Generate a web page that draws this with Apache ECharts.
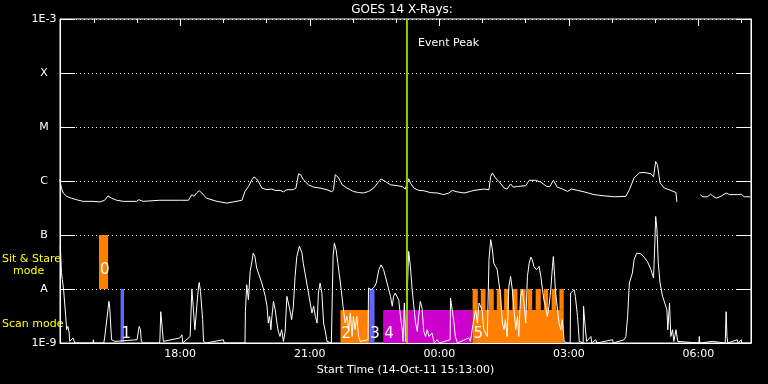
<!DOCTYPE html>
<html><head><meta charset="utf-8">
<script src="https://cdn.jsdelivr.net/npm/echarts@6/dist/echarts.min.js"></script>
<style>html,body{margin:0;padding:0;background:#000;}#c{width:768px;height:384px;}</style>
</head><body><div id="c"></div>
<script>
// ---------- DATA ----------
const startHour = 15 + 13 / 60;          // 14-Oct-11 15:13:00
const endHour = startHour + 16;
const yTickExponents = [-9, -8, -7, -6, -5, -4, -3];
const yTickLabels = ['1E-9', 'A', 'B', 'C', 'M', 'X', '1E-3'];
const xMajorHours = [18, 21, 24, 27, 30];
const xMinorHours = [16, 17, 18, 19, 20, 21, 22, 23, 24, 25, 26, 27, 28, 29, 30, 31];
const eventPeakHour = 23.25;

// GOES 14 1-8 A channel (hours since 14-Oct 00:00, W/m^2)
const longChannelA = [[15.21,1.06e-6],[15.25,7.4e-7],[15.29,6.0e-7],[15.37,5.2e-7],[15.48,4.8e-7],[15.60,4.5e-7],[15.75,4.2e-7],[15.98,4.2e-7],[16.14,4.1e-7],[16.25,4.4e-7],[16.33,5.3e-7],[16.41,4.8e-7],[16.53,4.4e-7],[16.68,4.2e-7],[16.99,4.2e-7],[17.04,4.5e-7],[17.14,4.2e-7],[17.53,4.4e-7],[17.99,4.4e-7],[18.19,4.4e-7],[18.27,5.6e-7],[18.32,5.2e-7],[18.38,6.0e-7],[18.44,6.6e-7],[18.50,6.0e-7],[18.61,4.8e-7],[18.85,4.2e-7],[19.08,3.9e-7],[19.23,4.1e-7],[19.43,4.4e-7],[19.50,6.4e-7],[19.58,7.9e-7],[19.66,1.06e-6],[19.71,1.19e-6],[19.77,1.09e-6],[19.83,9.2e-7],[19.89,7.4e-7],[20.01,6.9e-7],[20.12,7.1e-7],[20.20,6.7e-7],[20.31,6.7e-7],[20.39,6.3e-7],[20.47,6.9e-7],[20.62,6.9e-7],[20.68,7.4e-7],[20.74,1.36e-6],[20.79,1.31e-6],[20.85,1.06e-6],[20.97,8.5e-7],[21.09,7.7e-7],[21.24,7.4e-7],[21.40,6.9e-7],[21.51,6.3e-7],[21.55,6.9e-7],[21.59,1.31e-6],[21.63,1.31e-6],[21.67,1.14e-6],[21.75,8.5e-7],[21.86,7.4e-7],[22.01,6.4e-7],[22.13,6.1e-7],[22.25,6.0e-7],[22.36,6.4e-7],[22.48,7.4e-7],[22.60,9.8e-7],[22.65,1.09e-6],[22.75,9.8e-7],[22.87,8.5e-7],[23.02,8.2e-7],[23.14,7.9e-7],[23.21,7.1e-7],[23.29,1.10e-6],[23.33,9.2e-7],[23.41,7.4e-7],[23.52,6.7e-7],[23.64,6.6e-7],[23.79,6.1e-7],[23.95,6.0e-7],[24.10,5.6e-7],[24.22,6.0e-7],[24.30,6.7e-7],[24.41,6.3e-7],[24.57,6.0e-7],[24.72,6.4e-7],[24.80,6.7e-7],[25.03,7.1e-7],[25.15,6.9e-7],[25.19,1.22e-6],[25.23,1.41e-6],[25.30,1.14e-6],[25.38,9.8e-7],[25.50,7.4e-7],[25.57,7.1e-7],[25.65,8.8e-7],[25.71,7.7e-7],[25.81,7.9e-7],[26.00,8.2e-7],[26.08,1.03e-6],[26.23,1.03e-6],[26.35,9.5e-7],[26.49,7.9e-7],[26.56,7.9e-7],[26.64,1.03e-6],[26.73,7.7e-7],[26.85,7.1e-7],[26.97,6.4e-7],[27.06,7.1e-7],[27.20,6.7e-7],[27.35,6.3e-7],[27.58,5.6e-7],[27.82,5.3e-7],[28.05,5.1e-7],[28.32,5.2e-7],[28.40,6.9e-7],[28.51,1.14e-6],[28.63,1.41e-6],[28.74,1.44e-6],[28.90,1.36e-6],[28.96,1.19e-6],[29.01,2.3e-6],[29.05,2.0e-6],[29.11,9.2e-7],[29.21,7.4e-7],[29.36,6.7e-7],[29.48,6.1e-7],[29.50,4.1e-7]];
const longChannelB = [[30.04,5.6e-7],[30.10,5.1e-7],[30.21,5.1e-7],[30.28,5.7e-7],[30.33,5.3e-7],[30.41,4.8e-7],[30.52,5.2e-7],[30.64,6.0e-7],[30.72,5.6e-7],[30.91,5.6e-7],[30.99,5.7e-7],[31.06,5.1e-7],[31.20,5.1e-7]];

// GOES 14 0.5-4 A channel
const shortChannel = [[15.22,6.2e-8],[15.23,5.0e-8],[15.25,2.0e-8],[15.27,1.49e-8],[15.30,9.7e-9],[15.33,4.8e-9],[15.35,3.1e-9],[15.37,1.76e-9],[15.40,2.03e-9],[15.43,1.53e-9],[15.44,1.07e-9],[15.48,1.15e-9],[15.52,1.24e-9],[15.56,1e-9],[15.98,1e-9],[15.99,1.15e-9],[16.00,1e-9],[16.23,1e-9],[16.25,1.24e-9],[16.35,5.9e-9],[16.37,4.4e-9],[16.41,1.15e-9],[16.49,1.07e-9],[16.52,1e-9],[17.00,1.15e-9],[17.05,2.03e-9],[17.08,1.76e-9],[17.10,1.07e-9],[17.15,1e-9],[17.52,1e-9],[17.53,1.15e-9],[17.55,3.8e-9],[17.58,2.03e-9],[17.61,1.07e-9],[17.65,1e-9],[17.99,1.24e-9],[18.04,1.42e-9],[18.06,1e-9],[18.23,1.32e-9],[18.27,1.0e-8],[18.30,4.8e-9],[18.34,1.76e-9],[18.37,1.76e-9],[18.40,6.8e-9],[18.43,1.2e-8],[18.44,1.32e-8],[18.47,9.0e-9],[18.50,8.4e-9],[18.52,2.7e-9],[18.54,1.07e-9],[18.60,1e-9],[19.00,1.15e-9],[19.02,1e-9],[19.50,1e-9],[19.51,3.8e-9],[19.54,1.2e-8],[19.58,6.3e-9],[19.62,2.12e-8],[19.66,3.2e-8],[19.69,4.6e-8],[19.73,4.0e-8],[19.77,2.45e-8],[19.81,2.6e-8],[19.89,1.29e-8],[19.97,7.3e-9],[20.01,4.8e-9],[20.04,2.34e-9],[20.07,3.1e-9],[20.10,1.76e-9],[20.12,2.9e-9],[20.16,5.9e-9],[20.20,4.1e-9],[20.24,2.34e-9],[20.27,1.64e-9],[20.31,1.32e-9],[20.35,1.76e-9],[20.39,1.07e-9],[20.43,1.64e-9],[20.47,7.3e-9],[20.51,7.8e-9],[20.54,4.1e-9],[20.58,2.7e-9],[20.62,4.8e-9],[20.66,1.71e-8],[20.70,4.0e-8],[20.76,6.2e-8],[20.82,4.6e-8],[20.85,3.0e-8],[20.93,1.29e-8],[21.01,5.5e-9],[21.05,3.6e-9],[21.09,4.8e-9],[21.13,3.1e-9],[21.17,2.34e-9],[21.20,8.4e-9],[21.24,1.29e-8],[21.28,8.4e-9],[21.32,2.34e-9],[21.36,1.64e-9],[21.40,1.07e-9],[21.50,1e-9],[21.53,1.07e-9],[21.54,4.0e-8],[21.57,7.1e-8],[21.61,5.3e-8],[21.65,3.0e-8],[21.71,1.29e-8],[21.77,4.8e-9],[21.82,2.34e-9],[21.86,3.1e-9],[21.90,1.76e-9],[21.94,3.6e-9],[21.98,1.32e-9],[22.01,3.1e-9],[22.05,1.76e-9],[22.09,3.1e-9],[22.13,1.32e-9],[22.17,1.07e-9],[22.20,1.15e-9],[22.35,1.15e-9],[22.36,1.04e-8],[22.42,9.7e-9],[22.50,1.1e-8],[22.54,1.29e-8],[22.60,2.28e-8],[22.65,2.8e-8],[22.71,2.28e-8],[22.75,1.71e-8],[22.79,1.29e-8],[22.83,9.7e-9],[22.87,7.3e-9],[22.91,4.8e-9],[22.94,7.3e-9],[22.98,8.4e-9],[23.02,7.8e-9],[23.06,6.3e-9],[23.10,3.1e-9],[23.14,1.76e-9],[23.16,1.07e-9],[23.19,5.5e-9],[23.22,1.07e-9],[23.29,5.0e-8],[23.33,2.62e-8],[23.37,9.7e-9],[23.41,4.8e-9],[23.45,2.34e-9],[23.49,1.64e-9],[23.52,3.1e-9],[23.56,5.9e-9],[23.60,4.4e-9],[23.64,1.64e-9],[23.68,1.32e-9],[23.72,1.76e-9],[23.76,1.32e-9],[23.83,1.53e-9],[23.88,1e-9],[23.95,1.15e-9],[24.00,1e-9],[24.25,1.15e-9],[24.26,6.8e-9],[24.30,6.3e-9],[24.34,2.34e-9],[24.37,1.32e-9],[24.42,1e-9],[24.68,1.24e-9],[24.72,1.07e-9],[24.76,1.76e-9],[24.84,4.1e-9],[24.88,2.34e-9],[24.92,5.5e-9],[24.95,5.9e-9],[24.99,4.1e-9],[25.03,1.76e-9],[25.11,1.32e-9],[25.15,3.5e-8],[25.19,8.2e-8],[25.23,5.3e-8],[25.26,3.0e-8],[25.30,2.62e-8],[25.34,2.28e-8],[25.38,1.29e-8],[25.42,7.3e-9],[25.46,2.34e-9],[25.50,1.76e-9],[25.53,2.7e-9],[25.57,1.32e-9],[25.61,1.12e-8],[25.65,1.71e-8],[25.69,9.7e-9],[25.73,4.1e-9],[25.77,1.76e-9],[25.81,3.1e-9],[25.84,1.32e-9],[25.88,7.3e-9],[25.92,9.7e-9],[25.96,5.5e-9],[26.00,2.34e-9],[26.04,1.71e-8],[26.08,3.0e-8],[26.12,3.9e-8],[26.15,3.5e-8],[26.19,2.62e-8],[26.25,2.28e-8],[26.31,2.62e-8],[26.35,1.71e-8],[26.39,9.7e-9],[26.42,6.3e-9],[26.46,4.8e-9],[26.50,3.1e-9],[26.54,4.8e-9],[26.58,9.7e-9],[26.62,2.62e-8],[26.64,4.0e-8],[26.67,1.71e-8],[26.69,8.4e-9],[26.73,4.8e-9],[26.77,2.34e-9],[26.81,1.76e-9],[26.85,2.7e-9],[26.89,1.07e-9],[26.96,1e-9],[27.03,1e-9],[27.04,8.4e-9],[27.12,9.7e-9],[27.15,7.3e-9],[27.20,3.1e-9],[27.24,1.07e-9],[27.33,1e-9],[27.34,4.8e-9],[27.37,2.34e-9],[27.41,1.07e-9],[27.51,1.32e-9],[27.53,1e-9],[27.62,1.15e-9],[27.65,1e-9],[28.01,1.15e-9],[28.03,1e-9],[28.28,1.15e-9],[28.32,1.32e-9],[28.36,3.1e-9],[28.40,1.29e-8],[28.44,1.35e-8],[28.47,1.98e-8],[28.51,3.5e-8],[28.57,4.6e-8],[28.67,4.5e-8],[28.74,3.9e-8],[28.82,3.2e-8],[28.90,2.28e-8],[28.96,1.6e-8],[28.99,7.1e-8],[29.01,2.2e-7],[29.04,1.25e-7],[29.07,3.0e-8],[29.11,1.29e-8],[29.17,7.3e-9],[29.22,5.5e-9],[29.27,4.1e-9],[29.29,1.76e-9],[29.33,5.5e-9],[29.36,1.32e-9],[29.40,1.76e-9],[29.43,1.07e-9],[29.48,1.76e-9],[29.52,1.07e-9],[29.56,1e-9],[30.01,1e-9],[30.02,1.32e-9],[30.03,1e-9],[30.33,1.07e-9],[30.35,1e-9],[30.62,1e-9],[30.64,3.8e-9],[30.66,1.32e-9],[30.68,1e-9],[30.90,1.15e-9],[30.92,1e-9],[30.99,1.15e-9],[31.00,1e-9],[31.20,1e-9]];

// Observing modes (RHESSI/Hinode style blocks)
const modeLabels = ['0', '1', '2', '3', '4', '5'];
const modeRow    = ['stare', 'scan', 'scan', 'scan', 'scan', 'scan'];
const modeStart  = [16.12, 16.62, 21.71, 22.38, 22.70, 24.77];
const modeEnd    = [16.33, 16.70, 22.38, 22.50, 24.77, 26.88];
const modeLow    = [1e-8, 1e-9, 1e-9, 1e-9, 1e-9, 1e-9];
const modeHigh   = [1e-7, 1e-8, 4.1e-9, 1e-8, 4.1e-9, 4.1e-9];
const toothStart = [24.77, 24.96, 25.15, 25.33, 25.50, 25.69, 25.87, 26.04, 26.23, 26.42, 26.60, 26.78];
const toothEnd   = [24.89, 25.07, 25.26, 25.43, 25.61, 25.81, 26.00, 26.15, 26.35, 26.52, 26.71, 26.88];
const toothLow = 4.1e-9, toothHigh = 1e-8;

// ---------- STYLE ----------
const modeColors = ['#ff8000', '#6464ff', '#ff8000', '#6464ff', '#cc00cc', '#ff8000'];
const FONT = 'DejaVu Sans';

const modeData = modeStart.map((s, i) => [s, modeEnd[i], modeLow[i], modeHigh[i]]);
const toothData = toothStart.map((s, i) => [s, toothEnd[i], toothLow, toothHigh]);

function rectItem(params, api, color) {
  const p0 = api.coord([api.value(0), api.value(3)]);
  const p1 = api.coord([api.value(1), api.value(2)]);
  return {type: 'rect', shape: {x: p0[0], y: p0[1], width: p1[0] - p0[0], height: p1[1] - p0[1]}, style: {fill: color}};
}

const chart = echarts.init(document.getElementById('c'), null, {renderer: 'canvas'});
chart.setOption({
  backgroundColor: '#000',
  animation: false,
  grid: {left: 60, right: 17, top: 19, bottom: 41, show: true, borderColor: '#fff', borderWidth: 1, backgroundColor: 'transparent'},
  xAxis: [
    {type: 'value', min: startHour, max: endHour, position: 'bottom',
     axisLine: {show: true, lineStyle: {color: '#fff', width: 1}},
     axisTick: {show: false},
     splitLine: {show: false},
     axisLabel: {customValues: xMajorHours, color: '#fff', fontFamily: FONT, fontSize: 11, margin: 6,
       formatter: v => String(Math.round(v) % 24).padStart(2, '0') + ':00'},
     name: 'Start Time (14-Oct-11 15:13:00)', nameLocation: 'middle', nameGap: 20,
     nameTextStyle: {color: '#fff', fontFamily: FONT, fontSize: 11}},
    {type: 'value', min: startHour, max: endHour, position: 'top',
     axisLine: {show: false}, axisLabel: {show: false}, splitLine: {show: false},
     axisTick: {show: true, inside: true, length: 4, customValues: xMinorHours, lineStyle: {color: '#fff'}}},
    {type: 'value', min: startHour, max: endHour, position: 'top',
     axisLine: {show: false}, axisLabel: {show: false}, splitLine: {show: false},
     axisTick: {show: true, inside: true, length: 7, customValues: xMajorHours, lineStyle: {color: '#fff'}}}
  ],
  yAxis: [
    {type: 'log', logBase: 10, min: 1e-9, max: 1e-3, interval: 1, splitNumber: 6, position: 'left',
     axisLine: {show: true, lineStyle: {color: '#fff'}},
     axisTick: {show: true, inside: true, length: 15, lineStyle: {color: '#fff'}},
     splitLine: {show: true, lineStyle: {color: '#fff', width: 1, type: [1, 3]}},
     axisLabel: {color: '#fff', fontFamily: FONT, fontSize: 11, margin: 16, align: 'center',
       formatter: v => {
         const e = Math.round(Math.log10(v));
         const k = yTickExponents.indexOf(e);
         return k >= 0 ? yTickLabels[k] : '';
       }}},
    {type: 'log', logBase: 10, min: 1e-9, max: 1e-3, interval: 1, splitNumber: 6, position: 'right',
     axisLine: {show: true, lineStyle: {color: '#fff'}},
     axisTick: {show: true, inside: true, length: 14, lineStyle: {color: '#fff'}},
     splitLine: {show: false}, axisLabel: {show: false}}
  ],
  series: [
    {type: 'custom', name: 'modes', z: 1, clip: true, data: modeData,
     encode: {x: [0, 1], y: [2, 3]},
     renderItem: (params, api) => {
       const i = params.dataIndex;
       const rect = rectItem(params, api, modeColors[i]);
       const p0 = api.coord([api.value(0), api.value(2)]);
       const txt = {type: 'text', x: p0[0] + 1, y: p0[1] - (modeRow[i] === 'stare' ? 11 : 1),
         style: {text: modeLabels[i], fill: '#fff', font: '15px ' + FONT, verticalAlign: 'bottom', align: 'left'}};
       return {type: 'group', children: [rect, txt]};
     }},
    {type: 'custom', name: 'teeth', z: 1, clip: true, data: toothData,
     encode: {x: [0, 1], y: [2, 3]},
     renderItem: (params, api) => rectItem(params, api, '#ff8000')},
    {type: 'line', name: 'long A', data: longChannelA, z: 2, showSymbol: false, clip: true,
     lineStyle: {color: '#fff', width: 1}},
    {type: 'line', name: 'long B', data: longChannelB, z: 2, showSymbol: false, clip: true,
     lineStyle: {color: '#fff', width: 1}},
    {type: 'line', name: 'short', data: shortChannel, z: 2, showSymbol: false, clip: true,
     lineStyle: {color: '#fff', width: 1}},
    {type: 'custom', name: 'event', z: 3, data: [[eventPeakHour, 1e-3]],
     encode: {x: 0, y: 1},
     renderItem: (params, api) => {
       const top = api.coord([api.value(0), 1e-3]);
       const bot = api.coord([api.value(0), 1e-9]);
       return {type: 'group', children: [
         {type: 'line', shape: {x1: top[0], y1: top[1], x2: bot[0], y2: bot[1]}, style: {stroke: '#99cc00', lineWidth: 2}},
         {type: 'text', x: top[0] + 11, y: top[1] + 24, style: {text: 'Event Peak', fill: '#fff', font: '11px ' + FONT, verticalAlign: 'middle'}}
       ]};
     }}
  ],
  graphic: [
    {type: 'text', x: 402, y: 10, style: {text: 'GOES 14 X-Rays:', fill: '#fff', font: '12px ' + FONT, align: 'center', verticalAlign: 'middle'}},
    {type: 'text', x: 2, y: 259, style: {text: 'Sit & Stare', fill: '#ffff00', font: '11px ' + FONT, verticalAlign: 'middle'}},
    {type: 'text', x: 13, y: 271, style: {text: 'mode', fill: '#ffff00', font: '11px ' + FONT, verticalAlign: 'middle'}},
    {type: 'text', x: 2, y: 324, style: {text: 'Scan mode', fill: '#ffff00', font: '11px ' + FONT, verticalAlign: 'middle'}}
  ]
});
</script>
</body></html>
